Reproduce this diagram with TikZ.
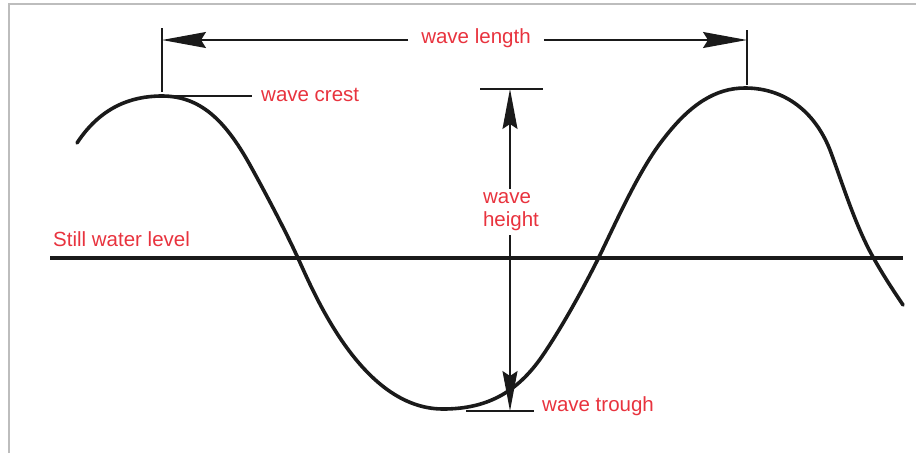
\documentclass[tikz,border=0pt]{standalone}
\usepackage{fontspec}
\setmainfont{Liberation Sans}
\usetikzlibrary{arrows.meta}
\definecolor{txt}{HTML}{E8333E}
\definecolor{ink}{HTML}{1A1A1A}
\definecolor{rim}{HTML}{BDBDBD}
\tikzset{
  lbl/.style={text=txt, font=\fontsize{20.5}{23}\selectfont, inner sep=0pt},
  wave/.style={draw=ink, line width=3.6pt, line cap=round, line join=round},
  sea/.style={draw=ink, line width=4.6pt},
  dim/.style={draw=ink, line width=1.4pt},
  dimh/.style={dim, -{Stealth[length=44pt, width=16pt, inset=5pt]}},
  dimv/.style={dim, -{Stealth[length=40pt, width=15pt, inset=5pt]}},
  tk/.style={draw=ink, line width=1.1pt},
}

\begin{document}
\begin{tikzpicture}[x=1pt, y=-1pt]
\useasboundingbox (0,0) rectangle (916,453);
\draw[rim, line width=1.5pt] (9,453) -- (9,4) -- (916,4);

\coordinate (crestA) at (162,92);
\coordinate (crestB) at (747,85);
\coordinate (lenA)   at (162,40);
\coordinate (lenB)   at (747,40);
\coordinate (topA)   at (162,28);
\coordinate (topB)   at (747,30);
\coordinate (hTop)   at (510,89);
\coordinate (hBot)   at (510,411);
\coordinate (seaL)   at (50,258);
\coordinate (seaR)   at (903,258);
\coordinate (lead)   at (175,96);

\node[lbl, anchor=base, inner xsep=13pt] (wl) at (476,43) {wave length};
\node[lbl, anchor=base west] (swl) at (53,246) {Still water level};
\node[lbl, anchor=base west, inner xsep=9pt] (wc) at (252,101) {wave crest};
\node[lbl, anchor=base west] (wt)  at (542,411) {wave trough};
\node[lbl, align=left, inner ysep=4pt] (wh) at (511,212) {wave\\height};

\draw[sea] (seaL) -- (seaR);
\draw[wave] (77,143) .. controls (100,108) and (130,96) .. (162,96)
  .. controls (200,96) and (225,120) .. (250,165)
  .. controls (265,192) and (285,230) .. (297,256)
  .. controls (312,288) and (360,409) .. (443,409)
  .. controls (490,409) and (520,390) .. (545,352)
  .. controls (565,322) and (585,285) .. (599,257)
  .. controls (618,218) and (640,168) .. (665,137)
  .. controls (690,105) and (715,88) .. (745,88)
  .. controls (785,88) and (815,112) .. (830,150)
  .. controls (842,182) and (855,225) .. (873,257)
  .. controls (883,275) and (893,290) .. (903,305);

\draw[tk] (topA) -- (crestA);
\draw[tk] (topB) -- (crestB);
\draw[dimh] (wl.west |- lenA) -- (lenA);
\draw[dimh] (wl.east |- lenB) -- (lenB);
\draw[tk] (lead) -- (wc.west |- lead);
\draw[tk] (480,89) -- (543,89);
\draw[tk] (466,411) -- (534,411);
\draw[dimv] (wh.north -| hTop) -- (hTop);
\draw[dimv] (wh.south -| hTop) -- (hBot);
\end{tikzpicture}
\end{document}
